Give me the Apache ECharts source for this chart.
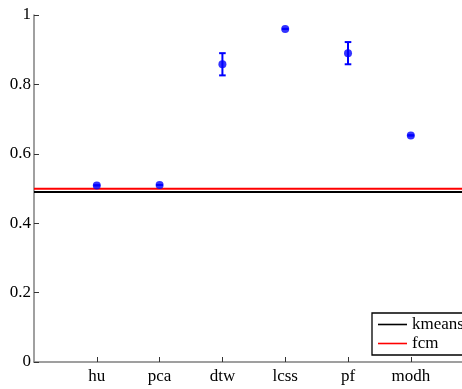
<!DOCTYPE html>
<html><head><meta charset="utf-8">
<script src="https://cdn.jsdelivr.net/npm/echarts@6/dist/echarts.min.js"></script>
<style>html,body{margin:0;padding:0;background:#fff}#c{width:462px;height:389px}</style>
</head><body><div id="c"></div>
<script>
const categories = ['hu','pca','dtw','lcss','pf','modh'];
const meanValues = [0.509, 0.510, 0.858, 0.960, 0.890, 0.653];
const errLow = [0.509, 0.510, 0.826, 0.960, 0.858, 0.653];
const errHigh = [0.509, 0.510, 0.890, 0.960, 0.922, 0.653];
const kmeansValue = 0.490;
const fcmValue = 0.499;
const yTicks = [0, 0.2, 0.4, 0.6, 0.8, 1];

const font = 'Liberation Serif';
const chart = echarts.init(document.getElementById('c'));
const pts = meanValues.map((v,i)=>[i+1, v]);
const errData = categories.map((c,i)=>[i+1, errLow[i], errHigh[i]]);
chart.setOption({
  animation:false,
  grid:{left:34, top:15, right:0, height:347, containLabel:false},
  xAxis:{type:'value', min:0, max:6.815,
    axisLine:{lineStyle:{color:'#808080', width:1.5}},
    axisTick:{inside:true, length:5, lineStyle:{color:'#333'},
      customValues:[1,2,3,4,5,6]},
    splitLine:{show:false},
    axisLabel:{margin:6, fontFamily:font, fontSize:17, color:'#000',
      customValues:[1,2,3,4,5,6],
      formatter:v=> (v>=1 && v<=categories.length) ? categories[Math.round(v)-1] : ''}},
  yAxis:{type:'value', min:0, max:1, interval:0.2,
    axisLine:{show:true, lineStyle:{color:'#808080', width:1.5}},
    axisTick:{show:true, inside:true, length:5, lineStyle:{color:'#333'}},
    splitLine:{show:false},
    axisLabel:{margin:3, fontFamily:font, fontSize:17, color:'#000',
      formatter:v=>{const t=yTicks.find(x=>Math.abs(x-v)<1e-6); return t===undefined?'':String(+t.toFixed(1));}}},
  legend:{left:372, top:313, orient:'vertical', itemWidth:29, itemHeight:14, itemGap:2,
    padding:[3,6,3,6], borderColor:'#000', borderWidth:1.3, borderRadius:0, backgroundColor:'#fff',
    textStyle:{fontFamily:font, fontSize:17, color:'#000'},
    data:[{name:'kmeans', icon:'path://M0,0H1V0.055H0Z'},{name:'fcm', icon:'path://M0,0H1V0.055H0Z'}]},
  series:[
    {name:'kmeans', type:'line', data:[[0,kmeansValue],[7,kmeansValue]], symbol:'none',
      lineStyle:{color:'#000', width:2}, itemStyle:{color:'#000'}, z:2},
    {name:'fcm', type:'line', data:[[0,fcmValue],[7,fcmValue]], symbol:'none',
      lineStyle:{color:'#ff0000', width:2}, itemStyle:{color:'#ff0000'}, z:2},
    {type:'custom', data:errData, z:3,
      renderItem:(params, api)=>{
        const x=api.value(0);
        const lo=api.coord([x, api.value(1)]);
        const hi=api.coord([x, api.value(2)]);
        const w=3.3;
        const s={stroke:'#0000ff', lineWidth:2};
        return {type:'group', children:[
          {type:'line', shape:{x1:lo[0],y1:lo[1],x2:hi[0],y2:hi[1]}, style:s},
          {type:'line', shape:{x1:lo[0]-w,y1:lo[1],x2:lo[0]+w,y2:lo[1]}, style:s},
          {type:'line', shape:{x1:hi[0]-w,y1:hi[1],x2:hi[0]+w,y2:hi[1]}, style:s}
        ]};
      }},
    {type:'scatter', data:pts, symbol:'circle', symbolSize:8, itemStyle:{color:'#0000ff'}, z:4}
  ]
});
</script></body></html>
